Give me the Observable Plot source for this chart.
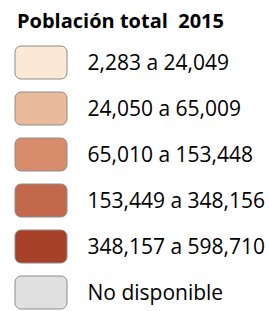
<!DOCTYPE html>
<html>
<head>
<meta charset="utf-8">
<script src="https://cdn.jsdelivr.net/npm/d3@7"></script>
<script src="https://cdn.jsdelivr.net/npm/@observablehq/plot@0.6"></script>
<style>
  html, body { margin: 0; padding: 0; background: #fff; overflow: hidden; }
  #title { font-family: "Open Sans", sans-serif; font-weight: 700; font-size: 20px; color: #000;
           white-space: pre; padding: 11px 0 0 17px; height: 30px; box-sizing: border-box; line-height: 20px; }
  svg { display: block; }
</style>
</head>
<body>
<div id="title"></div>
<div id="chart"></div>
<script>
const titleText = "Población total  2015";
const classes = ["2,283 a 24,049", "24,050 a 65,009", "65,010 a 153,448", "153,449 a 348,156", "348,157 a 598,710", "No disponible"];
const colors = ["#FCE9D5", "#EABA9C", "#D88C6C", "#C3684A", "#A8412A", "#E0E0E0"];

document.getElementById("title").textContent = titleText;
const rows = classes.map((label, i) => ({label, color: colors[i]}));

const chart = Plot.plot({
  width: 269,
  height: 281,
  margin: 0,
  x: {domain: [0, 1], range: [15, 67], axis: null},
  y: {domain: classes, range: [8.35, 286.15], paddingInner: 0.29, paddingOuter: 0.145, axis: null},
  style: {fontFamily: "Open Sans, sans-serif"},
  marks: [
    Plot.barX(rows, {x1: 0, x2: 1, y: "label", fill: d => d.color, stroke: "#8c8c8c", strokeWidth: 1, rx: 6}),
    Plot.text(rows, {x: 1, y: "label", text: "label", textAnchor: "start", dx: 20, fontSize: 21, fill: "#000"})
  ]
});
document.getElementById("chart").appendChild(chart);
</script>
</body>
</html>
